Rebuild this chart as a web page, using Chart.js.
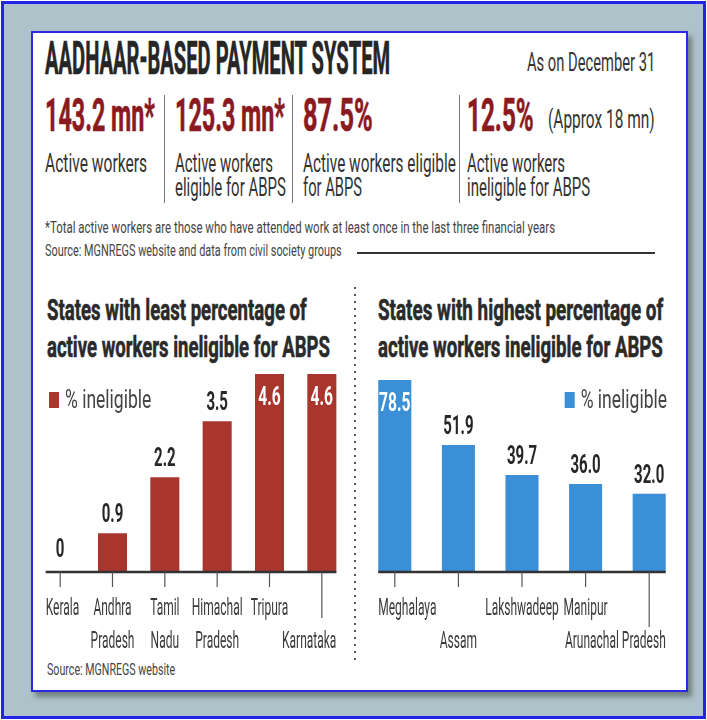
<!DOCTYPE html>
<html>
<head>
<meta charset="utf-8">
<script src="https://cdn.jsdelivr.net/npm/chart.js@4.4.1/dist/chart.umd.min.js"></script>
<style>
  body { margin: 0; width: 707px; height: 720px; overflow: hidden; background: #fff; font-family: Roboto, sans-serif; }
  #frame { position: absolute; left: 1px; top: 1px; width: 699px; height: 712px; border: 3px solid #2323e8; background: #aec3c9; }
  #card { position: absolute; left: 31px; top: 31px; width: 653px; height: 657px; border: 2px solid #2a2ae0; background: #fff; box-shadow: 4px 5px 5px rgba(0,0,0,.35); }
  .t { position: absolute; white-space: nowrap; line-height: 1; transform-origin: 0 0; font-family: Roboto, sans-serif; }
  .vsep { position: absolute; width: 1px; background: #777; top: 95px; height: 108px; }
  #rule { position: absolute; left: 357px; top: 252px; width: 298px; height: 2px; background: #333; }
  #dots { position: absolute; left: 354px; top: 287px; width: 2px; height: 373px;
          background: repeating-linear-gradient(to bottom, #555 0 2px, transparent 2px 7px); }
  canvas { position: absolute; }
</style>
</head>
<body>
<div id="frame"></div>
<div id="card"></div>
<div class="vsep" style="left:164px"></div>
<div class="vsep" style="left:292px"></div>
<div class="vsep" style="left:459px"></div>
<div id="rule"></div>
<div id="dots"></div>
<div id="texts"></div>
<canvas id="leftChart" width="324" height="320" style="left:31px;top:360px"></canvas>
<canvas id="rightChart" width="330" height="320" style="left:357px;top:360px"></canvas>

<script>
// headline figures
const statValues = ['143.2 mn*', '125.3 mn*', '87.5%', '12.5%'];
const statNotes = ['(Approx 18 mn)'];

// least ineligible states
const leftStates = ['Kerala', 'Andhra Pradesh', 'Tamil Nadu', 'Himachal Pradesh', 'Tripura', 'Karnataka'];
const leftValues = [0, 0.9, 2.2, 3.5, 4.6, 4.6];

// highest ineligible states
const rightStates = ['Meghalaya', 'Assam', 'Lakshwadeep', 'Manipur', 'Arunachal Pradesh'];
const rightValues = [78.5, 51.9, 39.7, 36.0, 32.0];

const seriesLabel = '% ineligible';

const RED = '#a8362c';
const BLUE = '#3a8fd6';

// text items: [text, left, baseline, size, weight, color, width]
const textItems = [
  ['AADHAAR-BASED PAYMENT SYSTEM', 45, 74, 46, 700, '#262626', 345],
  ['As on December 31', 527, 71, 26, 400, '#333', 128],
  [statValues[0], 45, 131, 46, 700, '#8b1a1f', 110],
  [statValues[1], 175, 131, 46, 700, '#8b1a1f', 110],
  [statValues[2], 303, 131, 46, 700, '#8b1a1f', 70],
  [statValues[3], 467, 131, 46, 700, '#8b1a1f', 67],
  [statNotes[0], 548, 128, 25, 400, '#333', 107],
  ['Active workers', 45, 172, 26, 400, '#333', 102],
  ['Active workers', 175, 172, 26, 400, '#333', 98],
  ['eligible for ABPS', 175, 196, 26, 400, '#333', 111],
  ['Active workers eligible', 303, 172, 26, 400, '#333', 153],
  ['for ABPS', 303, 196, 26, 400, '#333', 59],
  ['Active workers', 467, 172, 26, 400, '#333', 98],
  ['ineligible for ABPS', 467, 196, 26, 400, '#333', 123],
  ['*Total active workers are those who have attended work at least once in the last three financial years', 45, 233, 16, 400, '#444', 510],
  ['Source: MGNREGS website and data from civil society groups', 45, 256, 16, 400, '#444', 297],
  ['States with least percentage of', 47, 320, 30, 700, '#2a2a2a', 260],
  ['active workers ineligible for ABPS', 47, 357, 30, 700, '#2a2a2a', 283],
  ['States with highest percentage of', 378, 320, 30, 700, '#2a2a2a', 285],
  ['active workers ineligible for ABPS', 378, 357, 30, 700, '#2a2a2a', 285],
  ['Source: MGNREGS website', 47, 675, 16, 400, '#444', 128]
];

const holder = document.getElementById('texts');
textItems.forEach(([txt, x, base, size, weight, color, w]) => {
  const el = document.createElement('div');
  el.className = 't';
  el.textContent = txt;
  el.style.fontSize = size + 'px';
  el.style.fontWeight = weight;
  el.style.color = color;
  el.style.left = x + 'px';
  el.style.top = (base - 0.842 * size) + 'px';
  if (weight >= 700) el.style.webkitTextStroke = '0.6px ' + color;
  holder.appendChild(el);
  el.style.transform = 'scaleX(' + (w / el.offsetWidth) + ')';
});

function drawText(ctx, text, x, y, font, color, sx, align) {
  ctx.save();
  ctx.font = font;
  const w = ctx.measureText(text).width * sx;
  const left = align === 'center' ? x - w / 2 : align === 'right' ? x - w : x;
  ctx.translate(left, y);
  ctx.scale(sx, 1);
  ctx.fillStyle = color;
  ctx.textAlign = 'left';
  ctx.textBaseline = 'alphabetic';
  ctx.fillText(text, 0, 0);
  ctx.restore();
  return w;
}

// axis line, ticks, staggered labels, value labels and legend
const decor = {
  id: 'decor',
  afterDatasetsDraw(chart, args, opts) {
    const ctx = chart.ctx;
    const meta = chart.getDatasetMeta(0);
    const area = chart.chartArea;
    const ds = chart.data.datasets[0];
    const bars = meta.data;
    const axisY = area.bottom;
    const axisLeft = bars[0].x - bars[0].width / 2;
    const axisRight = bars[bars.length - 1].x + bars[bars.length - 1].width / 2;

    ctx.save();
    ctx.strokeStyle = '#333';
    ctx.lineWidth = 2.5;
    ctx.beginPath();
    ctx.moveTo(axisLeft, axisY);
    ctx.lineTo(axisRight, axisY);
    ctx.stroke();

    ctx.lineWidth = 1.2;
    ctx.strokeStyle = '#555';
    chart.data.labels.forEach((lab, i) => {
      const x = chart.scales.x.getPixelForValue(i);
      const len = opts.tickLong.includes(i) ? opts.longLen : 15;
      ctx.beginPath();
      ctx.moveTo(x, axisY);
      ctx.lineTo(x, axisY + len);
      ctx.stroke();

      const lines = opts.split.includes(i) ? lab.split(' ') : [lab];
      const row0 = opts.lowRow.includes(i) ? 1 : 0;
      lines.forEach((ln, k) => {
        ctx.font = '24px Roboto';
        const w = ctx.measureText(ln).width * 0.5;
        let cx = x;
        if (cx - w / 2 < axisLeft) cx = axisLeft + w / 2;
        if (cx + w / 2 > axisRight) cx = axisRight - w / 2;
        drawText(ctx, ln, cx, axisY + 43 + (row0 + k) * 33, '24px Roboto', '#3a3a3a', 0.5, 'center');
      });
    });

    bars.forEach((bar, i) => {
      const v = ds.data[i];
      const txt = v === 0 ? '0' : v.toFixed(1);
      if (bar.y - area.top < 25) {
        drawText(ctx, txt, bar.x, bar.y + 31, 'bold 26px Roboto', '#fff', 0.6, 'center');
      } else {
        drawText(ctx, txt, bar.x, bar.y - (v === 0 ? 15 : 11), 'bold 25px Roboto', '#262626', 0.6, 'center');
      }
    });

    // legend
    ctx.font = '25px Roboto';
    const tw = ctx.measureText(ds.label).width * 0.7;
    const lx = opts.legendAlign === 'start' ? area.left + 15 : area.right - 14 - tw - 16;
    const ly = area.top + (opts.legendTop - area.top);
    ctx.fillStyle = ds.backgroundColor;
    ctx.fillRect(lx, ly, 10, 16);
    drawText(ctx, ds.label, lx + 16, ly + 16, '25px Roboto', '#444', 0.7, 'left');
    ctx.restore();
  }
};

function makeChart(id, states, values, color, pct, pad, decorOpts) {
  return new Chart(document.getElementById(id), {
    type: 'bar',
    data: {
      labels: states,
      datasets: [{
        label: seriesLabel,
        data: values,
        backgroundColor: color,
        borderWidth: 0,
        categoryPercentage: 1,
        barPercentage: pct
      }]
    },
    options: {
      responsive: false,
      animation: false,
      layout: { padding: pad },
      scales: {
        x: { display: false },
        y: { display: false, min: 0, max: Math.max(...values) }
      },
      plugins: {
        legend: { display: false },
        tooltip: { enabled: false },
        decor: decorOpts
      }
    },
    plugins: [decor]
  });
}

makeChart('leftChart', leftStates, leftValues, RED, 0.555,
  { left: 3, right: 7, top: 14, bottom: 108 },
  { tickLong: [5], longLen: 46, lowRow: [5], split: [1, 2, 3], legendAlign: 'start', legendTop: 32 });

makeChart('rightChart', rightStates, rightValues, BLUE, 0.52,
  { left: 6, right: 6, top: 20, bottom: 108 },
  { tickLong: [4], longLen: 55, lowRow: [1, 4], split: [], legendAlign: 'end', legendTop: 32 });
</script>
</body>
</html>
